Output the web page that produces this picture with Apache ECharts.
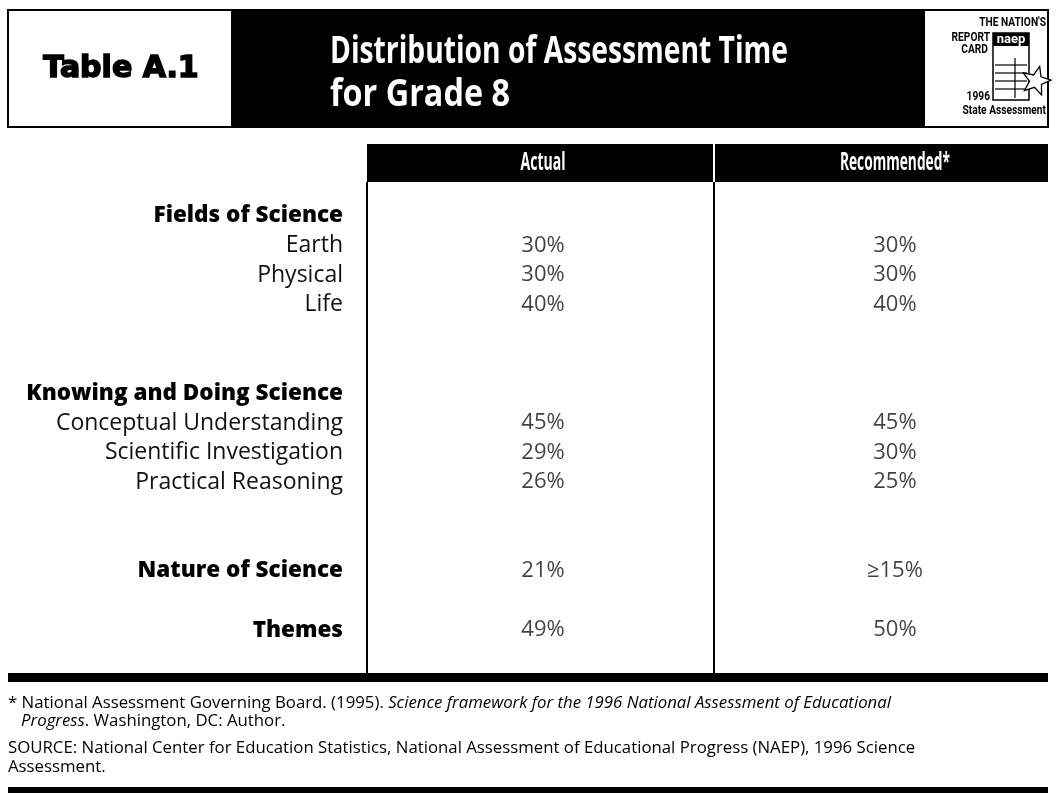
<!DOCTYPE html>
<html><head><meta charset="utf-8">
<script src="https://cdn.jsdelivr.net/npm/echarts@6/dist/echarts.min.js"></script>
<style>html,body{margin:0;padding:0;background:#fff}#c{width:1056px;height:793px}</style>
</head><body><div id="c"></div>
<script>
// ---------- data ----------
const tableNumber = 'Table A.1';
const titleLines = ['Distribution of Assessment Time', 'for Grade 8'];
const columnHeaders = ['Actual', 'Recommended*'];
const rowLabels = ['Fields of Science', 'Earth', 'Physical', 'Life', '', '',
  'Knowing and Doing Science', 'Conceptual Understanding', 'Scientific Investigation',
  'Practical Reasoning', '', '', 'Nature of Science', '', 'Themes'];
const groupHeaders = ['Fields of Science', 'Knowing and Doing Science', 'Nature of Science', 'Themes'];
const actualPct = [null, 30, 30, 40, null, null, null, 45, 29, 26, null, null, 21, null, 49];
const recommendedPct = [null, 30, 30, 40, null, null, null, 45, 30, 25, null, null, 15, null, 50];
const recommendedQualifier = ['', '', '', '', '', '', '', '', '', '', '', '', '\u2265', '', ''];
const footnoteLines = [
  '* National Assessment Governing Board. (1995). {i|Science framework for the 1996 National Assessment of Educational}',
  '   {i|Progress}. Washington, DC: Author.'
];
const sourceLines = [
  'SOURCE: National Center for Education Statistics, National Assessment of Educational Progress (NAEP), 1996 Science',
  'Assessment.'
];
const logoText = { top: "THE NATION'S", report: 'REPORT', card: 'CARD', naep: 'naep', year: '1996', state: 'State Assessment' };

// ---------- chart ----------
const FONT = '"Open Sans", "DejaVu Sans", sans-serif';
const chart = echarts.init(document.getElementById('c'), null, { renderer: 'canvas' });

function fitScale(text, weight, size, family, width) {
  const ctx = document.createElement('canvas').getContext('2d');
  ctx.font = weight + ' ' + size + 'px ' + family;
  return width / ctx.measureText(text).width;
}

const colX = [0.5, 1.5];
function cells(values, col) {
  const out = [];
  values.forEach((v, i) => { if (v !== null) out.push([colX[col], i, v]); });
  return out;
}

chart.setOption({
  animation: false,
  backgroundColor: '#fff',
  grid: { left: 367, right: 8, top: 201, height: 444 },
  xAxis: { type: 'value', min: 0, max: 1.935, show: false },
  yAxis: {
    type: 'category', inverse: true, data: rowLabels,
    axisLine: { show: false }, axisTick: { show: false }, splitLine: { show: false },
    axisLabel: {
      interval: 0, margin: 24, align: 'right',
      formatter: (v, idx) => {
        const t = rowLabels[idx];
        if (!t) return '';
        return groupHeaders.indexOf(t) >= 0 ? '{h|' + t + '}' : '{n|' + t + '}';
      },
      rich: {
        h: { fontFamily: FONT, fontWeight: 800, fontSize: 22.5, color: '#000' },
        n: { fontFamily: FONT, fontWeight: 'normal', fontSize: 23, color: '#111' }
      }
    }
  },
  series: [
    {
      type: 'scatter', name: columnHeaders[0], data: cells(actualPct, 0),
      symbolSize: 1, itemStyle: { color: 'rgba(0,0,0,0)' },
      label: { show: true, position: 'inside', fontFamily: FONT, fontSize: 22, color: '#111',
        formatter: p => p.value[2] + '%' }
    },
    {
      type: 'scatter', name: columnHeaders[1], data: cells(recommendedPct, 1),
      symbolSize: 1, itemStyle: { color: 'rgba(0,0,0,0)' },
      label: { show: true, position: 'inside', fontFamily: FONT, fontSize: 22, color: '#111',
        formatter: p => recommendedQualifier[p.value[1]] + p.value[2] + '%' }
    }
  ]
});

// header column positions from the axis scale
const hx = colX.map(v => chart.convertToPixel({ xAxisIndex: 0 }, v));

const g = [];
// title block
g.push({ type: 'rect', shape: { x: 231, y: 10, width: 694, height: 117 }, style: { fill: '#000' } });
g.push({ type: 'rect', shape: { x: 8, y: 10, width: 1040, height: 117 }, style: { fill: 'none', stroke: '#000', lineWidth: 2 } });
g.push({ type: 'text', x: 121, y: 69, style: { text: tableNumber, fontFamily: '"DejaVu Sans", sans-serif', fontWeight: 'bold', fontSize: 30, fill: '#000', stroke: '#000', lineWidth: 1.6, align: 'center', verticalAlign: 'middle' } });
const titleTargets = [458, 180];
titleLines.forEach((t, i) => {
  const s = fitScale(t, 'bold', 37, FONT, titleTargets[i]);
  g.push({ type: 'text', x: 330, y: 52 + i * 43, scaleX: s, style: { text: t, fontFamily: FONT, fontWeight: 'bold', fontSize: 37, fill: '#fff', align: 'left', verticalAlign: 'middle' } });
});
// logo
const LF = 'Roboto, "Liberation Sans", sans-serif';
function ltxt(t, x, y, size, align, fill) {
  g.push({ type: 'text', x: x, y: y, scaleX: 0.85, style: { text: t, fontFamily: LF, fontWeight: 'bold', fontSize: size, fill: fill || '#000', align: align, verticalAlign: 'middle' } });
}
ltxt(logoText.top, 1046, 23, 12, 'right');
ltxt(logoText.report, 990, 38, 12, 'right');
ltxt(logoText.card, 988, 50, 12, 'right');
ltxt(logoText.year, 990, 97, 12, 'right');
ltxt(logoText.state, 1046, 111, 12, 'right');
g.push({ type: 'rect', shape: { x: 993, y: 33, width: 36, height: 67 }, style: { fill: '#fff', stroke: '#000', lineWidth: 1.5 } });
g.push({ type: 'rect', shape: { x: 993, y: 33, width: 36, height: 13 }, style: { fill: '#000' } });
g.push({ type: 'text', x: 1011, y: 39.5, style: { text: logoText.naep, fontFamily: LF, fontWeight: 'bold', fontSize: 13, fill: '#fff', align: 'center', verticalAlign: 'middle' } });
[65, 73, 81, 89].forEach(y => g.push({ type: 'line', shape: { x1: 995, y1: y, x2: 1027, y2: y }, style: { stroke: '#000', lineWidth: 1.2 } }));
g.push({ type: 'line', shape: { x1: 1015, y1: 58, x2: 1015, y2: 98 }, style: { stroke: '#000', lineWidth: 1.2 } });
(function () {
  const cx = 1036, cy = 81, R = 15, r = 6.5, pts = [];
  for (let k = 0; k < 10; k++) {
    const a = -Math.PI / 2 + k * Math.PI / 5 + 0.25;
    const rr = k % 2 === 0 ? R : r;
    pts.push([cx + rr * Math.cos(a), cy + rr * Math.sin(a)]);
  }
  g.push({ type: 'polygon', shape: { points: pts }, style: { fill: '#fff', stroke: '#000', lineWidth: 1.3 } });
})();
// table header
g.push({ type: 'rect', shape: { x: 367, y: 144, width: 681, height: 38 }, style: { fill: '#000' } });
g.push({ type: 'line', shape: { x1: 714, y1: 144, x2: 714, y2: 182 }, style: { stroke: '#fff', lineWidth: 2 } });
const headTargets = [45, 110];
columnHeaders.forEach((t, i) => {
  const s = fitScale(t, 'bold', 25, FONT, headTargets[i]);
  g.push({ type: 'text', x: hx[i], y: 163, scaleX: s, style: { text: t, fontFamily: FONT, fontWeight: 'bold', fontSize: 25, fill: '#fff', align: 'center', verticalAlign: 'middle' } });
});
// body lines
[367, 714].forEach(x => g.push({ type: 'line', shape: { x1: x, y1: 182, x2: x, y2: 674 }, style: { stroke: '#000', lineWidth: 2 } }));
g.push({ type: 'rect', shape: { x: 8, y: 673, width: 1040, height: 9 }, style: { fill: '#000' } });
g.push({ type: 'rect', shape: { x: 8, y: 787, width: 1040, height: 6 }, style: { fill: '#000' } });
// footer
const FS = 16.8;
const rich = { i: { fontStyle: 'italic', fontFamily: FONT, fontSize: FS, fill: '#000' } };
footnoteLines.forEach((t, i) => g.push({ type: 'text', x: 8, y: 703 + i * 18, style: { text: t, rich: rich, fontFamily: FONT, fontSize: FS, fill: '#000', align: 'left', verticalAlign: 'middle' } }));
sourceLines.forEach((t, i) => g.push({ type: 'text', x: 8, y: 748 + i * 19, style: { text: t, fontFamily: FONT, fontSize: FS, fill: '#000', align: 'left', verticalAlign: 'middle' } }));

chart.setOption({ graphic: { elements: g } });
</script>
</body></html>
